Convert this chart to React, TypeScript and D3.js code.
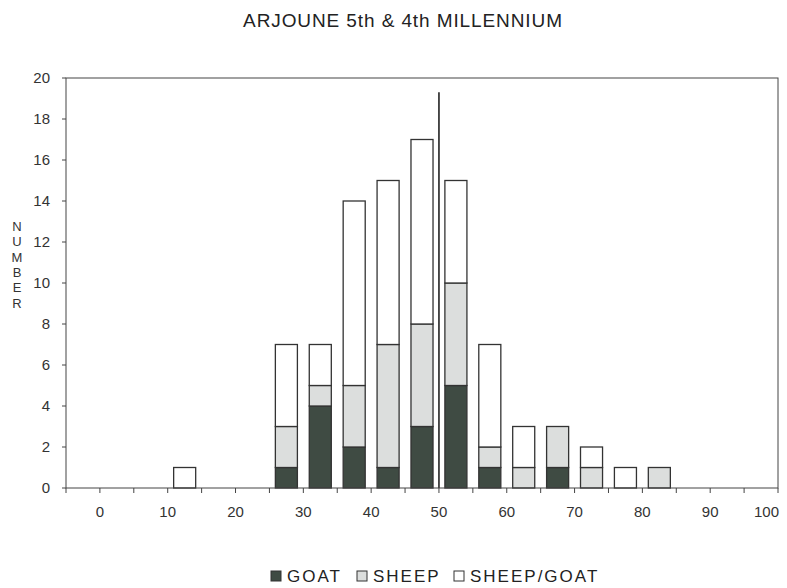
import React from 'react';
import * as d3 from 'd3';

// bins are 5 units wide, value = bin start
const binStarts = [10, 25, 30, 35, 40, 45, 50, 55, 60, 65, 70, 75, 80];
const goat = [0, 1, 4, 2, 1, 3, 5, 1, 0, 1, 0, 0, 0];
const sheep = [0, 2, 1, 3, 6, 5, 5, 1, 1, 2, 1, 0, 1];
const sheepGoat = [1, 4, 2, 9, 8, 9, 5, 5, 2, 0, 1, 1, 0];

const seriesNames = ['GOAT', 'SHEEP', 'SHEEP/GOAT'];
const seriesColors = ['#3f4b43', '#dcdedd', '#ffffff'];

const xTicks = [0, 10, 20, 30, 40, 50, 60, 70, 80, 90, 100];
const yTicks = [0, 2, 4, 6, 8, 10, 12, 14, 16, 18, 20];

const markerX = 50;
const markerTop = 19.3;

const W = 787;
const H = 588;
const margin = { top: 78, right: 9, bottom: 100, left: 66 };

const App = () => {
  const x = d3.scaleLinear().domain([-5, 100]).range([margin.left, W - margin.right]);
  const y = d3.scaleLinear().domain([0, 20]).range([H - margin.bottom, margin.top]);

  const rows = binStarts.map((b, i) => ({
    bin: b,
    GOAT: goat[i],
    SHEEP: sheep[i],
    'SHEEP/GOAT': sheepGoat[i],
  }));
  const stacked = d3.stack<any>().keys(seriesNames)(rows);

  const binW = x(5) - x(0);
  const barW = binW * 0.65;
  const minorTicks = d3.range(-5, 101, 5);
  const font = '"Liberation Sans", Arial, sans-serif';
  const stroke = '#333';

  return (
    <svg width={W} height={H} style={{ position: 'absolute', left: 0, top: 0, background: '#fff' }}>
      <text x={403} y={27} textAnchor="middle" fontFamily={font} fontSize={19} letterSpacing={0.9} fill="#222">
        ARJOUNE 5th &amp; 4th MILLENNIUM
      </text>

      {/* bars */}
      {stacked.map((s, si) => (
        <g key={s.key}>
          {s.map((d, i) =>
            d[1] - d[0] > 0 ? (
              <rect
                key={i}
                x={x(binStarts[i] + 2.5) - barW / 2}
                y={y(d[1])}
                width={barW}
                height={y(d[0]) - y(d[1])}
                fill={seriesColors[si]}
                stroke={stroke}
                strokeWidth={1.3}
              />
            ) : null
          )}
        </g>
      ))}

      {/* marker line */}
      <line x1={x(markerX)} x2={x(markerX)} y1={y(0)} y2={y(markerTop)} stroke="#222" strokeWidth={1.6} />

      {/* frame */}
      <rect
        x={margin.left}
        y={margin.top}
        width={W - margin.right - margin.left}
        height={H - margin.bottom - margin.top}
        fill="none"
        stroke="#444"
        strokeWidth={1}
      />

      {/* y axis */}
      {yTicks.map((t) => (
        <g key={t}>
          <line x1={margin.left - 4} x2={margin.left} y1={y(t)} y2={y(t)} stroke="#444" />
          <text x={margin.left - 16} y={y(t) + 5} textAnchor="end" fontFamily={font} fontSize={15} fill="#333">
            {t}
          </text>
        </g>
      ))}
      {'NUMBER'.split('').map((c, i) => (
        <text key={i} x={17} y={231 + i * 15.3} textAnchor="middle" fontFamily={font} fontSize={13} fill="#333">
          {c}
        </text>
      ))}

      {/* x axis */}
      {minorTicks.map((t) => (
        <line key={t} x1={x(t)} x2={x(t)} y1={y(0)} y2={y(0) + 5} stroke="#444" />
      ))}
      {xTicks.map((t, i) => (
        <text
          key={t}
          x={i === xTicks.length - 1 ? x(t) + 1 : x(t)}
          y={y(0) + 29}
          textAnchor={i === xTicks.length - 1 ? 'end' : 'middle'}
          fontFamily={font}
          fontSize={15}
          fill="#333"
        >
          {t}
        </text>
      ))}

      {/* legend */}
      {(() => {
        const starts = [271, 357, 454];
        return seriesNames.map((n, i) => (
          <g key={n}>
            <rect x={starts[i]} y={571} width={10} height={10} fill={seriesColors[i]} stroke={stroke} strokeWidth={1} />
            <text x={starts[i] + 16} y={582} fontFamily={font} fontSize={17} letterSpacing={2} fill="#222">
              {n}
            </text>
          </g>
        ));
      })()}
    </svg>
  );
};

export default App;
